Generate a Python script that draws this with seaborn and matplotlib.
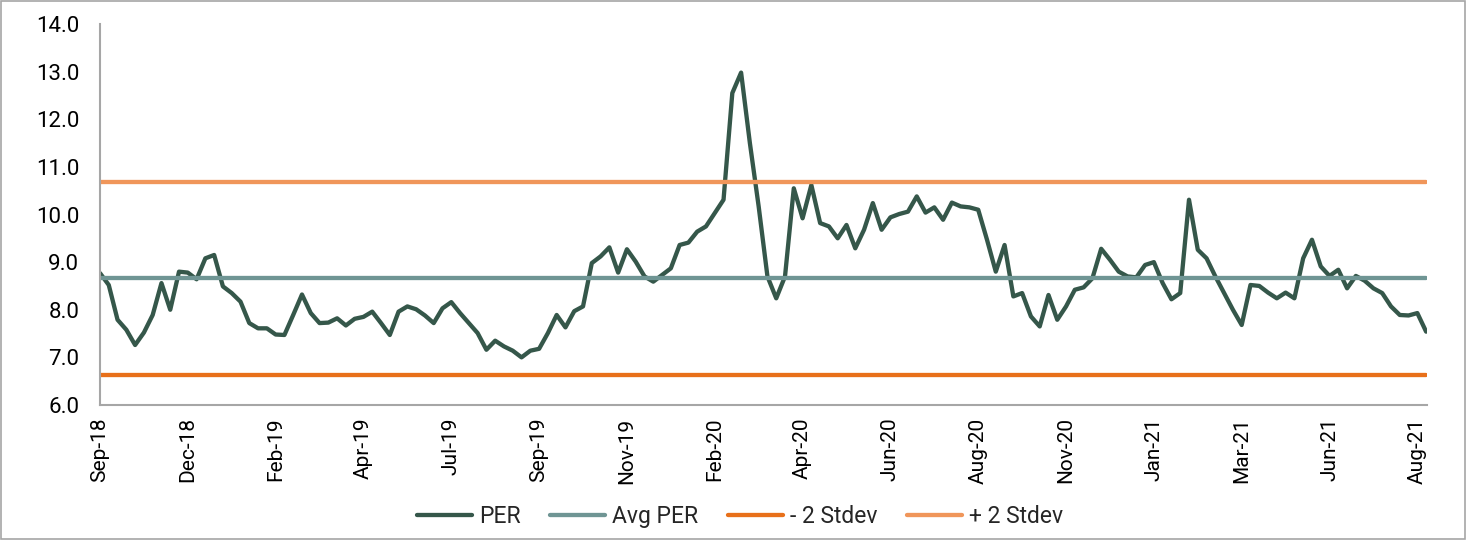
import numpy as np
import pandas as pd
import seaborn as sns
import matplotlib.pyplot as plt
from matplotlib.patches import Rectangle

# weekly PER readings, Sep-18 .. Aug-21
per = [8.77, 8.52, 7.79, 7.58, 7.26, 7.52, 7.89, 8.56, 8.00, 8.80,
       8.78, 8.64, 9.08, 9.15, 8.49, 8.35, 8.17, 7.72, 7.61, 7.61,
       7.48, 7.47, 7.89, 8.32, 7.93, 7.72, 7.73, 7.82, 7.67, 7.81,
       7.85, 7.96, 7.72, 7.47, 7.96, 8.07, 8.01, 7.88, 7.72, 8.03,
       8.16, 7.93, 7.72, 7.51, 7.16, 7.35, 7.23, 7.14, 7.00, 7.14,
       7.18, 7.51, 7.89, 7.63, 7.97, 8.07, 8.98, 9.12, 9.31, 8.78,
       9.27, 9.01, 8.70, 8.59, 8.73, 8.87, 9.36, 9.41, 9.64, 9.75,
       10.03, 10.31, 12.55, 12.98, 11.50, 10.17, 8.70, 8.24, 8.70, 10.55,
       9.92, 10.62, 9.82, 9.75, 9.50, 9.78, 9.29, 9.68, 10.24, 9.68,
       9.94, 10.01, 10.06, 10.38, 10.04, 10.15, 9.89, 10.25, 10.17, 10.15,
       10.10, 9.47, 8.80, 9.36, 8.28, 8.35, 7.86, 7.65, 8.31, 7.79,
       8.07, 8.42, 8.47, 8.66, 9.28, 9.05, 8.80, 8.70, 8.68, 8.94,
       9.00, 8.56, 8.22, 8.35, 10.31, 9.26, 9.08, 8.70, 8.35, 8.00,
       7.68, 8.52, 8.50, 8.36, 8.24, 8.36, 8.24, 9.08, 9.47, 8.91,
       8.71, 8.84, 8.45, 8.71, 8.61, 8.45, 8.35, 8.07, 7.89, 7.88,
       7.93, 7.54]
avg_per = 8.66
minus_2sd = 6.63
plus_2sd = 10.69

tick_labels = ["Sep-18", "Dec-18", "Feb-19", "Apr-19", "Jul-19", "Sep-19",
               "Nov-19", "Feb-20", "Apr-20", "Jun-20", "Aug-20", "Nov-20",
               "Jan-21", "Mar-21", "Jun-21", "Aug-21"]

series_names = ["PER", "Avg PER", "- 2 Stdev", "+ 2 Stdev"]
colors = ["#35574a", "#6f9594", "#e8701a", "#f0965a"]

n = len(per)
week = np.arange(n)
df = pd.DataFrame({
    "week": np.tile(week, 4),
    "value": per + [avg_per] * n + [minus_2sd] * n + [plus_2sd] * n,
    "series": np.repeat(series_names, n),
})

sns.set_style("white")
plt.rcParams["font.family"] = ["Roboto", "DejaVu Sans"]

fig = plt.figure(figsize=(14.66, 5.41), dpi=100)
ax = fig.add_axes([0.0682, 0.2514, 0.9052, 0.7042])

sns.lineplot(data=df, x="week", y="value", hue="series", hue_order=series_names,
             palette=colors, linewidth=3.1, ax=ax, legend=True,
             solid_capstyle="round", solid_joinstyle="round")

ax.set_xlim(0, 151.1)
ax.set_ylim(6, 14)
ax.set_yticks(np.arange(6, 14.1, 1))
ax.set_yticklabels([f"{v:.1f}" for v in np.arange(6, 14.1, 1)])
ax.set_xticks(np.arange(0, 10 * len(tick_labels), 10))
ax.set_xticklabels(tick_labels, rotation=90)
ax.set_xlabel("")
ax.set_ylabel("")

for side in ["top", "right"]:
    ax.spines[side].set_visible(False)
for side in ["left", "bottom"]:
    ax.spines[side].set_color("#a6a6a6")
    ax.spines[side].set_linewidth(1.5)
ax.tick_params(axis="both", which="major", direction="out", length=5,
               width=1.2, color="#a6a6a6", labelsize=15.5, labelcolor="black")
ax.tick_params(axis="y", labelsize=16, pad=10)
ax.tick_params(axis="x", labelsize=15, pad=4)

handles, labels = ax.get_legend_handles_labels()
ax.get_legend().remove()
fig.legend(handles, labels, loc="center", bbox_to_anchor=(0.505, 0.046),
           ncol=4, frameon=False, fontsize=16.5, handlelength=2.4,
           handletextpad=0.3, columnspacing=1.3)

fig.add_artist(Rectangle((0.0005, 0.004), 0.9985, 0.995, transform=fig.transFigure,
                         fill=False, edgecolor="#a6a6a6", linewidth=1.2))

fig.savefig("out.png", dpi=100)
